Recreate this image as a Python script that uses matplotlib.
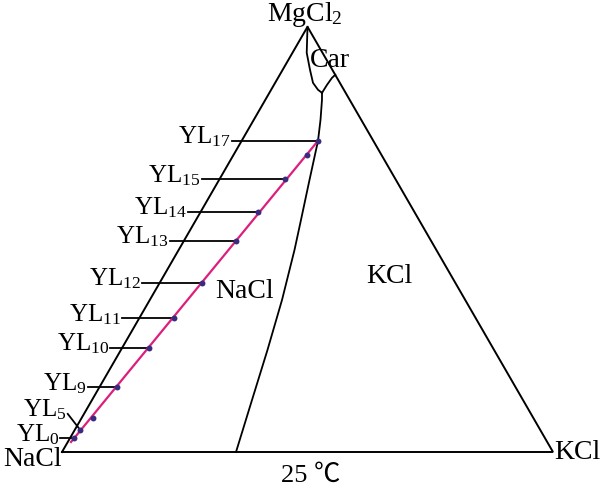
import numpy as np
import matplotlib
matplotlib.use("Agg")
import matplotlib.pyplot as plt

plt.rcParams['font.family'] = ['Liberation Serif', 'DejaVu Serif']
plt.rcParams['mathtext.fontset'] = 'custom'
plt.rcParams['mathtext.rm'] = 'Liberation Serif'
plt.rcParams['mathtext.it'] = 'Liberation Serif:italic'

# ---------------- data (ternary fractions: KCl, MgCl2) ----------------
sample_ids = [0, 5, None, 9, 10, 11, 12, 13, 14, 15, None, 17]
sample_kcl = [0.008, 0.011, 0.023, 0.0355, 0.055, 0.0705, 0.086, 0.106, 0.117, 0.133, 0.1496, 0.1555]
sample_mg = [0.033, 0.052, 0.080, 0.153, 0.245, 0.315, 0.398, 0.4965, 0.565, 0.642, 0.699, 0.732]

line_kcl = [0.0066, 0.1555]
line_mg = [0.0235, 0.732]

# NaCl / KCl saturation curve (from base up to invariant point)
nacl_kcl_k = [0.3544, 0.3258, 0.2985, 0.2693, 0.2359, 0.2138, 0.1841, 0.1555, 0.1359, 0.1154, 0.1072]
nacl_kcl_m = [0.0, 0.1224, 0.24, 0.3576, 0.4753, 0.5459, 0.64, 0.7318, 0.7812, 0.8282, 0.8447]

# carnallite field boundaries
car_left_k = [0.0, 0.029, 0.0557, 0.0771, 0.0955, 0.1072]
car_left_m = [1.0, 0.9388, 0.8988, 0.8682, 0.8518, 0.8447]
car_right_k = [0.1072, 0.108, 0.1099, 0.113]
car_right_m = [0.8447, 0.8635, 0.88, 0.887]

# ---------------- layout ----------------
PX = 491.0  # pixels per unit side
SQ = np.sqrt(3) / 2
label_gap_px = {0: 10, 5: 7, 9: 11.5, 10: 12, 11: 17, 12: 18, 13: 14, 14: 13, 15: 18, 17: 10}
label_rise_px = {5: 16}


def tern(k, m):
    k = np.asarray(k, float)
    m = np.asarray(m, float)
    return k + m / 2, m * SQ


fig = plt.figure(figsize=(6, 4.86), dpi=100)
ax = fig.add_axes([0, 0, 1, 1])
ax.set_xlim(-62 / PX, 538 / PX)
ax.set_ylim(-34 / PX, 452 / PX)
ax.axis('off')

lw = 1.4
# triangle
tx, ty = tern([0, 1, 0, 0], [0, 0, 1, 0])
ax.plot(tx, ty, color='black', lw=lw, solid_joinstyle='miter')

# phase boundaries
for kk, mm in [(nacl_kcl_k, nacl_kcl_m), (car_left_k, car_left_m), (car_right_k, car_right_m)]:
    x, y = tern(kk, mm)
    ax.plot(x, y, color='black', lw=1.3)

# leaders and labels
sx, sy = tern(sample_kcl, sample_mg)
fs = 18
for i, sid in enumerate(sample_ids):
    if sid is None:
        continue
    edge_x = sy[i] / (2 * SQ)  # x of NaCl-MgCl2 edge at this height
    gap = label_gap_px[sid] / PX
    rise = label_rise_px.get(sid, 0) / PX
    x0 = edge_x - gap
    y0 = sy[i] + rise
    ax.plot([x0, sx[i]], [y0, sy[i]], color='black', lw=1.3)
    ax.text(x0 - 1 / PX, y0 - 3 / PX, 'YL$_{%d}$' % sid, ha='right', va='baseline', fontsize=fs)

# solution line
lx, ly = tern(line_kcl, line_mg)
ax.plot(lx, ly, color='#DC1F7C', lw=1.6, zorder=3)
ax.scatter(sx, sy, s=18, color='#3B2B80', zorder=4, linewidths=0)

# region / corner labels
def pt(px, py):
    return (px - 62) / PX, (452 - py) / PX

fl = 20
ax.text(*pt(305, 21), 'MgCl$_2$', ha='center', va='baseline', fontsize=fl)
ax.text(*pt(310, 67), 'Car', ha='left', va='baseline', fontsize=fl)
ax.text(*pt(245, 298), 'NaCl', ha='center', va='baseline', fontsize=fl)
ax.text(*pt(389, 283), 'KCl', ha='center', va='baseline', fontsize=fl)
ax.text(*pt(62, 466), 'NaCl', ha='right', va='baseline', fontsize=fl)
ax.text(*pt(554, 459), 'KCl', ha='left', va='baseline', fontsize=fl)
ax.text(*pt(281, 482), '25 ℃', ha='left', va='baseline', fontsize=fl - 1,
        family=['Liberation Serif', 'Noto Sans CJK SC'])

fig.savefig('out.png', dpi=100)
